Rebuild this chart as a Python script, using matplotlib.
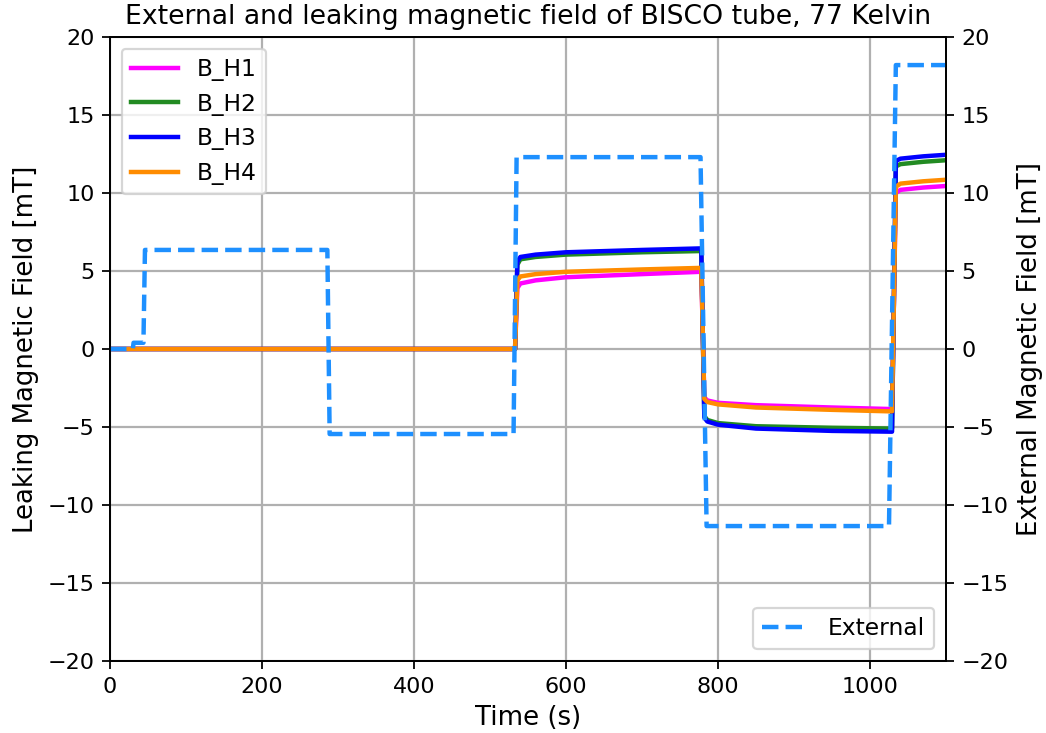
import matplotlib
matplotlib.use("Agg")
import matplotlib.pyplot as plt

# Sensor time grid (s)
time = [0, 533, 536, 540, 560, 600, 700, 778, 782, 786, 800, 850, 950, 1029, 1034, 1040, 1070, 1100]
b_h1 = [0, 0, 3.9, 4.2, 4.4, 4.6, 4.8, 4.95, -3.1, -3.3, -3.45, -3.6, -3.75, -3.85, 10.0, 10.2, 10.35, 10.45]
b_h2 = [0, 0, 5.4, 5.75, 5.9, 6.05, 6.2, 6.28, -4.3, -4.55, -4.75, -4.95, -5.05, -5.1, 11.7, 11.85, 12.0, 12.1]
b_h3 = [0, 0, 5.6, 5.9, 6.05, 6.2, 6.35, 6.45, -4.4, -4.65, -4.85, -5.1, -5.25, -5.3, 12.05, 12.2, 12.35, 12.45]
b_h4 = [0, 0, 4.4, 4.65, 4.8, 4.95, 5.1, 5.2, -3.2, -3.4, -3.55, -3.75, -3.9, -4.0, 10.4, 10.6, 10.75, 10.85]

# External field
time_ext = [0, 30, 31, 44, 46, 286, 289, 531, 535, 777, 785, 1025, 1034, 1100]
external = [0, 0, 0.4, 0.4, 6.35, 6.35, -5.45, -5.45, 12.3, 12.3, -11.35, -11.35, 18.2, 18.2]

dpi = 160
fig, ax = plt.subplots(figsize=(1046 / dpi, 733 / dpi), dpi=dpi)
fig.subplots_adjust(left=110 / 1046, right=946 / 1046, top=1 - 37 / 733, bottom=1 - 661 / 733)

ax.plot(time, b_h1, color="#ff00ff", lw=2, label="B_H1", zorder=2)
ax.plot(time, b_h2, color="#228B22", lw=2, label="B_H2", zorder=2)
ax.plot(time, b_h3, color="#0000ff", lw=2, label="B_H3", zorder=3)
ax.plot(time, b_h4, color="#ff8c00", lw=2, label="B_H4", zorder=4)
ax.set_xlim(0, 1100)
ax.set_ylim(-20, 20)
ax.set_xlabel("Time (s)", fontsize=11.7)
ax.set_ylabel("Leaking Magnetic Field [mT]", fontsize=11.7)
ax.set_title("External and leaking magnetic field of BISCO tube, 77 Kelvin", fontsize=12)
ax.grid(True, color="#b0b0b0", lw=1)
ax.legend(loc="upper left", fontsize=10.5)

ax2 = ax.twinx()
ax2.plot(time_ext, external, color="#1e90ff", lw=2, ls="--", label="External")
ax2.set_ylim(-20, 20)
ax2.set_ylabel("External Magnetic Field [mT]", fontsize=11.7)
ax2.legend(loc="lower right", fontsize=10.5)

fig.savefig("out.png", dpi=dpi)
